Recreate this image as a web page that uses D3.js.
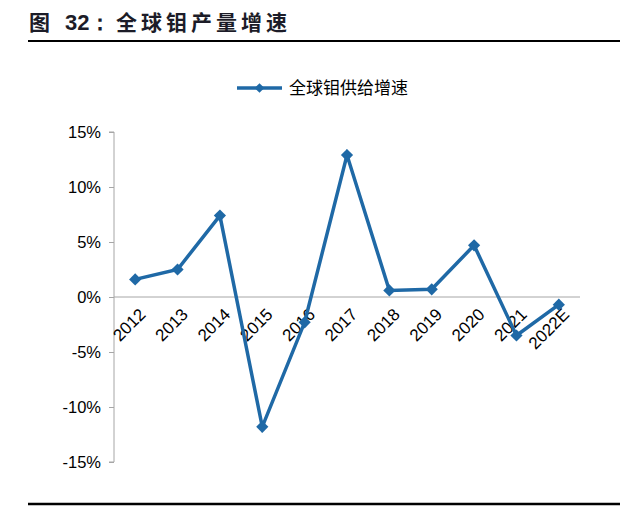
<!DOCTYPE html>
<html><head><meta charset="utf-8">
<script src="https://cdn.jsdelivr.net/npm/d3@7/dist/d3.min.js"></script>
<style>body{margin:0;background:#fff}svg{display:block}</style>
</head><body>
<svg id="c" width="640" height="507"></svg>
<script>
const categories = ["2012","2013","2014","2015","2016","2017","2018","2019","2020","2021","2022E"];
const values = [1.6, 2.5, 7.4, -11.8, -2.3, 12.9, 0.6, 0.7, 4.7, -3.5, -0.7];
const yTicks = [15, 10, 5, 0, -5, -10, -15];
const seriesName = "全球钼供给增速";
const titleParts = ["图", "32：", "全球钼产量增速"];

const svg = d3.select("#c");
const blue = "#1f69a6";
const grey = "#a6a6a6";

// title and rules
svg.append("text").attr("x", 29).attr("y", 30).text(titleParts[0])
  .attr("font-family", "Noto Sans CJK SC").attr("font-weight", "bold").attr("font-size", 21).attr("fill", "#1c1c28");
svg.append("text").attr("x", 65).attr("y", 30).text(titleParts[1])
  .attr("font-family", "Liberation Sans, Arial").attr("font-weight", "bold").attr("font-size", 22).attr("fill", "#1c1c28");
svg.append("text").attr("x", 116).attr("y", 30).text(titleParts[2])
  .attr("font-family", "Noto Sans CJK SC").attr("font-weight", "bold").attr("font-size", 21)
  .attr("letter-spacing", 4).attr("fill", "#1c1c28");
svg.append("line").attr("x1", 28).attr("x2", 620).attr("y1", 41).attr("y2", 41).attr("stroke", "#000").attr("stroke-width", 2);
svg.append("line").attr("x1", 28).attr("x2", 620).attr("y1", 504).attr("y2", 504).attr("stroke", "#000").attr("stroke-width", 2.5);

const x = d3.scaleBand().domain(categories).range([114, 580]);
const y = d3.scaleLinear().domain([-15, 15]).range([462, 132]);

// y axis
const yAxis = d3.axisLeft(y).tickValues(yTicks).tickSize(5).tickFormat(d => d + "%");
const ga = svg.append("g").attr("transform", "translate(114,0)").call(yAxis);
ga.select(".domain").attr("stroke", grey).attr("d", `M-5,${y(15)}H0V${y(-15)}H-5`);
ga.selectAll(".tick line").attr("stroke", grey);
ga.selectAll(".tick text").attr("x", -13).attr("font-family", "Liberation Sans, Arial").attr("font-size", 16.5).attr("fill", "#000");

// zero line
svg.append("line").attr("x1", 114).attr("x2", 580).attr("y1", y(0)).attr("y2", y(0)).attr("stroke", grey).attr("stroke-width", 1);

// x labels
const xAxis = d3.axisBottom(x).tickSize(0);
const gx = svg.append("g").attr("transform", `translate(0,${y(0)})`).call(xAxis);
gx.select(".domain").remove();
gx.selectAll(".tick text")
  .attr("font-family", "Liberation Sans, Arial").attr("font-size", 17).attr("fill", "#000")
  .attr("text-anchor", "end").attr("dy", null).attr("y", 0)
  .attr("transform", "translate(3,10) rotate(-45)")
  .attr("dominant-baseline", "hanging");

// line
const line = d3.line().x((d, i) => x(categories[i]) + x.bandwidth() / 2).y(d => y(d));
svg.append("path").datum(values).attr("d", line).attr("fill", "none").attr("stroke", blue).attr("stroke-width", 3.5).attr("stroke-linejoin", "miter");
const diamond = d3.symbol().type(d3.symbolDiamond2).size(95);
svg.selectAll(".pt").data(values).join("path").attr("class", "pt")
  .attr("d", diamond)
  .attr("transform", (d, i) => `translate(${x(categories[i]) + x.bandwidth() / 2},${y(d)})`)
  .attr("fill", blue);

// legend
svg.append("line").attr("x1", 237).attr("x2", 282).attr("y1", 88).attr("y2", 88).attr("stroke", blue).attr("stroke-width", 3.5);
svg.append("path").attr("d", d3.symbol().type(d3.symbolDiamond2).size(60)).attr("transform", "translate(259.5,88)").attr("fill", blue);
svg.append("text").attr("x", 289).attr("y", 94).text(seriesName)
  .attr("font-family", "Noto Sans CJK SC").attr("font-size", 17).attr("fill", "#000");
</script>
</body></html>
